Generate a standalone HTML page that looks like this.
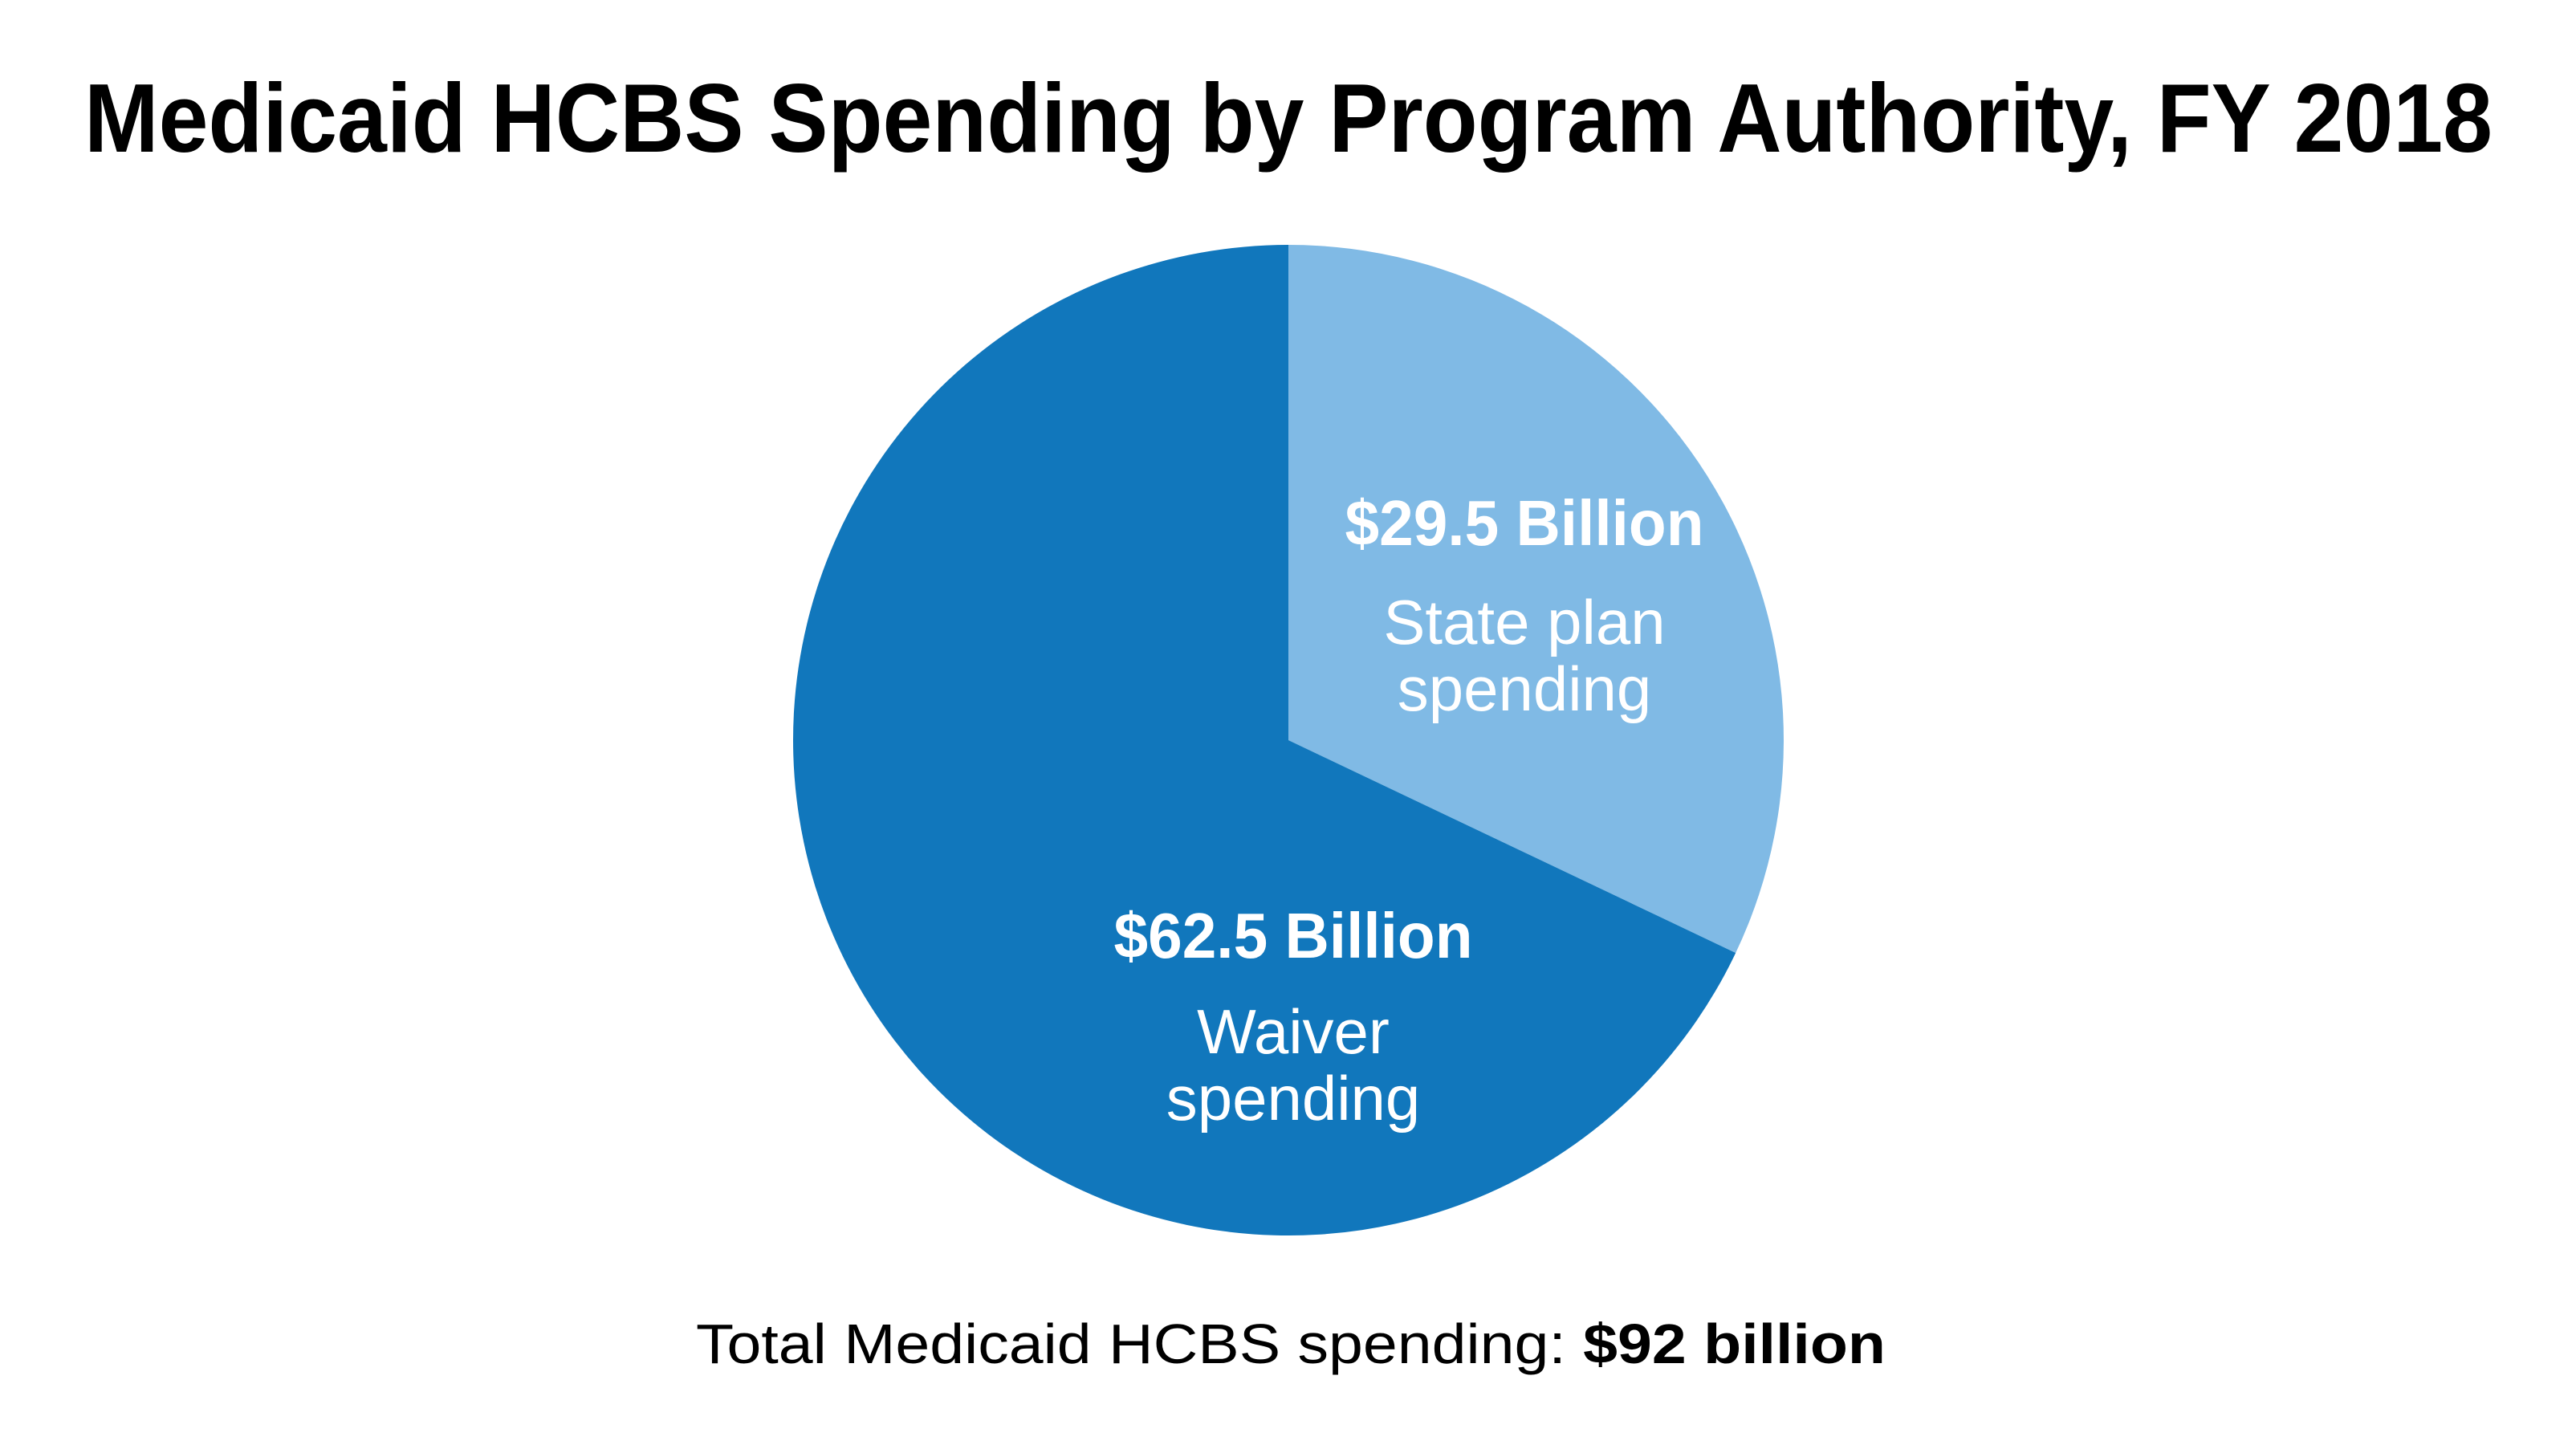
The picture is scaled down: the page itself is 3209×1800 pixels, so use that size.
<!DOCTYPE html>
<html><head><meta charset="utf-8"><style>
html,body{margin:0;padding:0;background:#fff;}
svg{display:block;}
</style></head><body>
<svg width="3209" height="1800" viewBox="0 0 3209 1800" xmlns="http://www.w3.org/2000/svg">
<rect width="3209" height="1800" fill="#fff"/>
<text x="1605" y="189" text-anchor="middle" font-family="Liberation Sans, sans-serif" font-weight="bold" font-size="122" fill="#000" textLength="3000" lengthAdjust="spacingAndGlyphs">Medicaid HCBS Spending by Program Authority, FY 2018</text>
<g id="pie"></g>
<g font-family="Liberation Sans, sans-serif" fill="#fff" text-anchor="middle">
<text x="1899" y="679" font-weight="bold" font-size="80" textLength="447" lengthAdjust="spacingAndGlyphs">$29.5 Billion</text>
<text x="1899" y="802" font-size="78">State plan</text>
<text x="1899" y="885" font-size="78">spending</text>
<text x="1611" y="1193" font-weight="bold" font-size="80" textLength="447" lengthAdjust="spacingAndGlyphs">$62.5 Billion</text>
<text x="1611" y="1312" font-size="78">Waiver</text>
<text x="1611" y="1395" font-size="78">spending</text>
</g>
<text x="867" y="1698" font-family="Liberation Sans, sans-serif" font-size="70" fill="#000" textLength="1482" lengthAdjust="spacingAndGlyphs">Total Medicaid HCBS spending: <tspan font-weight="bold">$92 billion</tspan></text>
</svg>
<script>
const categories = ['State plan spending', 'Waiver spending'];
const values = [29.5, 62.5];
const colors = ['#80BAE5', '#1177BC'];
const cx = 1605, cy = 922, r = 617;
const total = values.reduce((a,b)=>a+b,0);
const g = document.getElementById('pie');
let a0 = 0;
function pt(a){ return [cx + r*Math.sin(a), cy - r*Math.cos(a)]; }
values.forEach((v,i)=>{
  const a1 = a0 + v/total*2*Math.PI;
  const p0 = pt(a0), p1 = pt(a1);
  const large = (a1-a0) > Math.PI ? 1 : 0;
  const path = document.createElementNS('http://www.w3.org/2000/svg','path');
  path.setAttribute('d', `M${cx},${cy} L${p0[0]},${p0[1]} A${r},${r} 0 ${large} 1 ${p1[0]},${p1[1]} Z`);
  path.setAttribute('fill', colors[i]);
  
  
  g.appendChild(path);
  a0 = a1;
});
</script>
</body></html>
